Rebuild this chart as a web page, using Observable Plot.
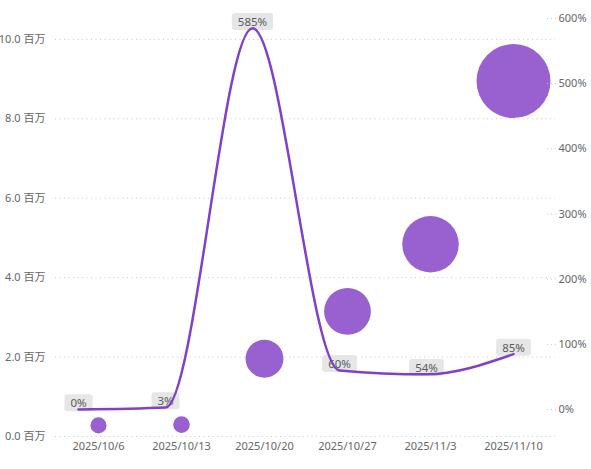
<!DOCTYPE html>
<html>
<head>
<meta charset="utf-8">
<script src="https://cdn.jsdelivr.net/npm/d3@7"></script>
<script src="https://cdn.jsdelivr.net/npm/@observablehq/plot@0.6"></script>
<style>
  body { margin: 0; background: white; }
  #wrap { position: relative; width: 591px; height: 469px; }
  #wrap svg { position: absolute; left: 0; top: 0; }
</style>
</head>
<body>
<div id="wrap"></div>
<script>
const dates = ["2025/10/6", "2025/10/13", "2025/10/20", "2025/10/27", "2025/11/3", "2025/11/10"];
const amounts = [280000, 300000, 1960000, 3150000, 4840000, 8950000];
const growth = [0, 0.03, 5.85, 0.60, 0.54, 0.85];
const leftTicks = [0, 2e6, 4e6, 6e6, 8e6, 10e6];
const rightTicks = [0, 1, 2, 3, 4, 5, 6];

const data = dates.map((d, i) => ({date: d, amount: amounts[i], growth: growth[i]}));

const font = "'Segoe UI', 'Noto Sans', 'Noto Sans CJK SC', sans-serif";

const base = Plot.plot({
  width: 591, height: 469,
  marginLeft: 55, marginRight: 36, marginTop: 19, marginBottom: 33,
  style: {fontFamily: font, fontSize: "11px", color: "#666666", background: "white"},
  x: {type: "point", domain: dates, padding: 0.5, label: null},
  y: {domain: [0, 10.5e6], label: null},
  r: {type: "pow", exponent: 0.44, domain: [0, 8.95e6], range: [0, 37]},
  marks: [
    Plot.ruleY(leftTicks, {stroke: "#c8c8c8", strokeDasharray: "1,3.5"}),
    Plot.axisY({ticks: leftTicks, tickSize: 0, tickPadding: 10, label: null,
      tickFormat: d => (d / 1e6).toFixed(1) + " 百万"}),
    Plot.axisX({tickSize: 0, tickPadding: 6, label: null}),
    Plot.dot(data, {x: "date", y: "amount", r: "amount", fill: "#9861cf", stroke: "none"})
  ]
});

const overlay = Plot.plot({
  width: 591, height: 469,
  marginLeft: 55, marginRight: 36, marginTop: 18, marginBottom: 33,
  style: {fontFamily: font, fontSize: "11px", color: "#666666", background: "transparent"},
  x: {type: "point", domain: dates, padding: 0, insetLeft: 22, insetRight: 41, axis: null},
  y: {domain: [-0.414, 6], axis: null},
  marks: [
    Plot.axisY({anchor: "right", ticks: rightTicks, tickSize: -10, tickPadding: 13, label: null,
      stroke: "#c8c8c8", strokeDasharray: "1,3",
      tickFormat: d => Math.round(d * 100) + "%"}),
    Plot.text(data, {x: "date", y: "growth", text: d => Math.round(d.growth * 100) + "%",
      dy: -6, fill: "#5a5a5a", fontSize: 11.5}),
    Plot.line(data, {x: "date", y: "growth", curve: "monotone-x", stroke: "#8040c8", strokeWidth: 2.5})
  ]
});

const wrap = document.getElementById("wrap");
wrap.appendChild(base);
wrap.appendChild(overlay);

// Add rounded grey backgrounds behind data labels
overlay.querySelectorAll('g[aria-label="text"] text').forEach(t => {
  const b = t.getBBox();
  const cy = b.y + b.height / 2;
  const r = document.createElementNS("http://www.w3.org/2000/svg", "rect");
  r.setAttribute("x", b.x - 6);
  r.setAttribute("y", cy - 8.5);
  r.setAttribute("width", b.width + 12);
  r.setAttribute("height", 17);
  r.setAttribute("rx", 3);
  r.setAttribute("fill", "#e6e6e6");
  const tr = t.getAttribute("transform");
  if (tr) r.setAttribute("transform", tr);
  t.parentNode.insertBefore(r, t);
});
</script>
</body>
</html>
